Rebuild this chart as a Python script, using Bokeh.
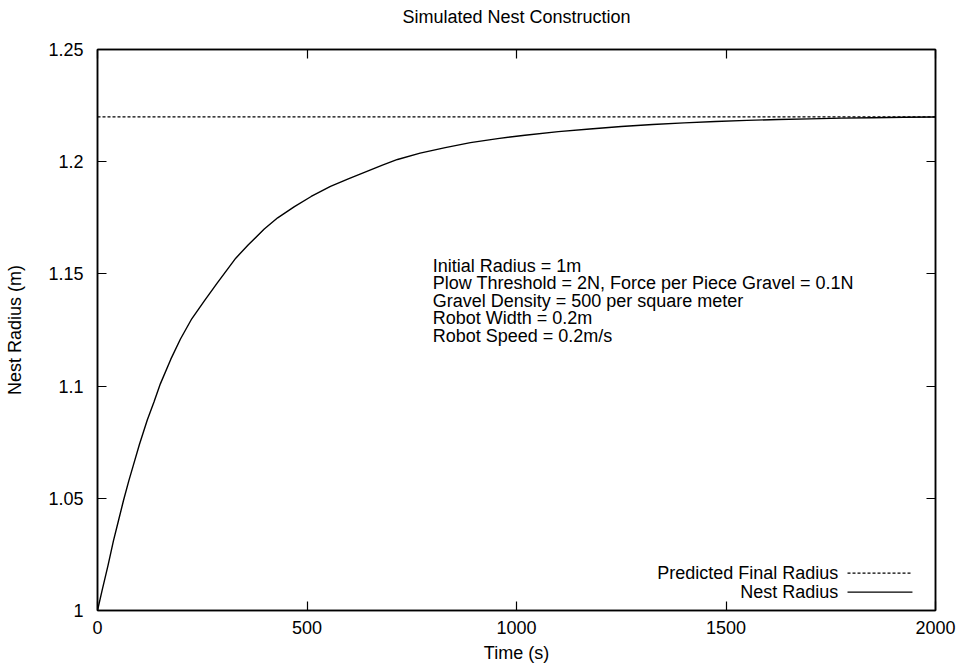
from bokeh.plotting import figure
from bokeh.models import Range1d, FixedTicker, NumeralTickFormatter, LinearAxis, Label
from bokeh.embed import file_html
from bokeh.resources import INLINE

# ---- data ----
time_s = [0, 11, 25, 38, 50, 62, 75, 86, 100, 119, 135, 150, 175, 198, 225, 255,
          286, 330, 360, 398, 430, 470, 510, 556, 600, 640, 680, 716, 770, 830,
          890, 955, 1020, 1100, 1175, 1250, 1325, 1400, 1475, 1550, 1625, 1700,
          1775, 1850, 1925, 2000]
nest_radius = [1.0, 1.009, 1.020, 1.031, 1.040, 1.049, 1.058, 1.065, 1.074, 1.085,
               1.093, 1.101, 1.112, 1.121, 1.130, 1.138, 1.146, 1.157, 1.163,
               1.170, 1.175, 1.180, 1.1845, 1.189, 1.1925, 1.1955, 1.1985, 1.201,
               1.2038, 1.2063, 1.2085, 1.2103, 1.2118, 1.2134, 1.2146, 1.2157,
               1.2166, 1.2173, 1.2179, 1.2184, 1.2188, 1.2191, 1.2194, 1.2196,
               1.2198, 1.2199]
pred_time = [0, 2000]
pred_radius = [1.22, 1.22]
x_ticks = [0, 500, 1000, 1500, 2000]
y_ticks = [1.0, 1.05, 1.1, 1.15, 1.2, 1.25]
notes = ["Initial Radius = 1m",
         "Plow Threshold = 2N, Force per Piece Gravel = 0.1N",
         "Gravel Density = 500 per square meter",
         "Robot Width = 0.2m",
         "Robot Speed = 0.2m/s"]
series_names = ["Predicted Final Radius", "Nest Radius"]
title_text = "Simulated Nest Construction"

FONT = "Liberation Sans"
FS = "18px"

p = figure(width=958, height=667, output_backend="svg", toolbar_location=None,
           x_range=Range1d(0, 2000), y_range=Range1d(1.0, 1.25),
           min_border_left=97, min_border_right=23, min_border_top=49, min_border_bottom=57)
p.background_fill_color = "white"
p.border_fill_color = "white"
p.outline_line_color = "black"
p.outline_line_width = 1.5
p.grid.visible = False

def style_axis(ax, ticks, labels=True):
    ax.ticker = FixedTicker(ticks=ticks)
    ax.major_tick_in = 9
    ax.major_tick_out = 0
    ax.minor_tick_line_color = None
    ax.axis_line_color = "black"
    ax.axis_line_width = 1.5
    ax.major_tick_line_color = "black"
    ax.major_tick_line_width = 1.2
    ax.major_label_text_font = FONT
    ax.axis_label_text_font = FONT
    ax.axis_label_text_font_style = "normal"
    ax.axis_label_text_font_size = FS
    ax.axis_label_text_color = "black"
    if labels:
        ax.major_label_text_font_size = FS
        ax.major_label_text_color = "black"
    else:
        ax.major_label_text_font_size = "1px"
        ax.major_label_text_color = None
        ax.major_label_standoff = 0

style_axis(p.xaxis[0], x_ticks)
style_axis(p.yaxis[0], y_ticks)
p.xaxis[0].formatter = NumeralTickFormatter(format="0")
p.yaxis[0].formatter = NumeralTickFormatter(format="0.[00]")
p.xaxis[0].axis_label = "Time (s)"
p.yaxis[0].axis_label = "Nest Radius (m)"
p.xaxis[0].major_label_standoff = 10
p.xaxis[0].axis_label_standoff = 6
p.yaxis[0].major_label_standoff = 14
p.yaxis[0].axis_label_standoff = 20

# mirrored ticks on top/right; the top axis carries the chart title
top_ax = LinearAxis()
right_ax = LinearAxis()
style_axis(top_ax, x_ticks, labels=False)
style_axis(right_ax, y_ticks, labels=False)
top_ax.axis_label = title_text
top_ax.axis_label_standoff = 23
p.add_layout(top_ax, "above")
p.add_layout(right_ax, "right")

# ---- data lines ----
p.line(pred_time, pred_radius, line_color="black", line_width=1.2, line_dash="3 2")
p.line(time_s, nest_radius, line_color="black", line_width=1.4)

# ---- parameter notes ----
note_x = 800
note_y0 = 1.1537
note_dy = 0.0078
for i, t in enumerate(notes):
    p.add_layout(Label(x=note_x, y=note_y0 - i * note_dy, text=t, text_font=FONT,
                       text_font_size=FS, text_baseline="middle", text_align="left",
                       text_color="black"))

# ---- legend (text right-aligned, sample on right) ----
leg_text_x = 1768
leg_x0, leg_x1 = 1790, 1945
leg_y = [1.0167, 1.0082]
leg_dash = ["3 2", "solid"]
for name, y, d in zip(series_names, leg_y, leg_dash):
    p.add_layout(Label(x=leg_text_x, y=y, text=name, text_font=FONT, text_font_size=FS,
                       text_baseline="middle", text_align="right", text_color="black"))
    p.line([leg_x0, leg_x1], [y, y], line_color="black", line_width=1.2, line_dash=d)

open("out.html", "w").write(file_html(p, INLINE))
